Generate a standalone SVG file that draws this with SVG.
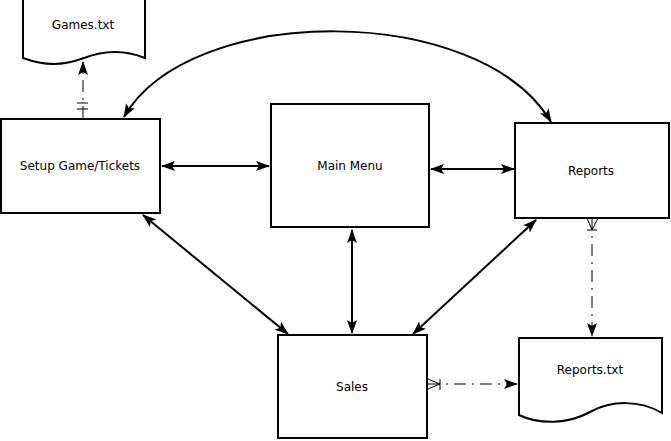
<svg xmlns="http://www.w3.org/2000/svg" width="671" height="441" viewBox="0 0 671 441">
<style>
.box{fill:#fff;stroke:#000;stroke-width:2}
.lbl{font-family:"DejaVu Sans",sans-serif;font-size:12px;fill:#000;text-anchor:middle}
.con{fill:none;stroke:#000;stroke-width:2}
.dd{fill:none;stroke:#000;stroke-width:1;stroke-dasharray:12,6,2,6}
.thin{fill:none;stroke:#000;stroke-width:1}
</style>
<defs>
<marker id="ah" viewBox="0 0 14 10" refX="13" refY="5" markerWidth="14" markerHeight="10" markerUnits="userSpaceOnUse" orient="auto-start-reverse">
<path d="M0,0 L14,5 L0,10 L3,5 z" fill="#000"/>
</marker>
</defs>
<rect width="671" height="441" fill="#fff"/>
<g id="games">
<path class="box" d="M23,-3 L23,58 C45,66 62,66 84,58 C105,50 125,50 145,58 L145,-3"/>
<text class="lbl" x="83" y="29">Games.txt</text>
</g>
<g id="setup">
<rect class="box" x="1" y="119" width="159" height="94"/>
<text class="lbl" x="80" y="170">Setup Game/Tickets</text>
</g>
<g id="mainmenu">
<rect class="box" x="271" y="104" width="158" height="123"/>
<text class="lbl" x="350" y="170">Main Menu</text>
</g>
<g id="reports">
<rect class="box" x="515" y="123" width="154" height="95"/>
<text class="lbl" x="591" y="175">Reports</text>
</g>
<g id="sales">
<rect class="box" x="278" y="335" width="149" height="103"/>
<text class="lbl" x="352" y="391">Sales</text>
</g>
<g id="reportstxt">
<path class="box" d="M519,338 L662,338 L662,413 C640,400 612,400 590,412 C568,424 540,425 519,415 Z"/>
<text class="lbl" x="590" y="374">Reports.txt</text>
</g>
<g id="connectors">
<path class="con" d="M162,166 L269,166" marker-start="url(#ah)" marker-end="url(#ah)"/>
<path class="con" d="M431,169 L514,169" marker-start="url(#ah)" marker-end="url(#ah)"/>
<path class="con" d="M143,215 L288,334" marker-start="url(#ah)" marker-end="url(#ah)"/>
<path class="con" d="M352,230 L352,333" marker-start="url(#ah)" marker-end="url(#ah)"/>
<path class="con" d="M536,220 L413,334" marker-start="url(#ah)" marker-end="url(#ah)"/>
<path class="con" d="M124,117 C190,2 480,2 551,122" marker-start="url(#ah)" marker-end="url(#ah)"/>
<path class="dd" d="M83,118 L83,62" marker-end="url(#ah)"/>
<path class="thin" d="M77,103 L88,103 M77,109 L88,109"/>
<path class="dd" d="M592,218 L592,336" marker-end="url(#ah)"/>
<path class="thin" d="M587,218 L592,230 L598,218 M587,230 L597,230"/>
<path class="dd" d="M428,384 L517,384" marker-end="url(#ah)"/>
<path class="thin" d="M428,379 L440,384 L428,389 M440,379 L440,390"/>
</g>
</svg>
